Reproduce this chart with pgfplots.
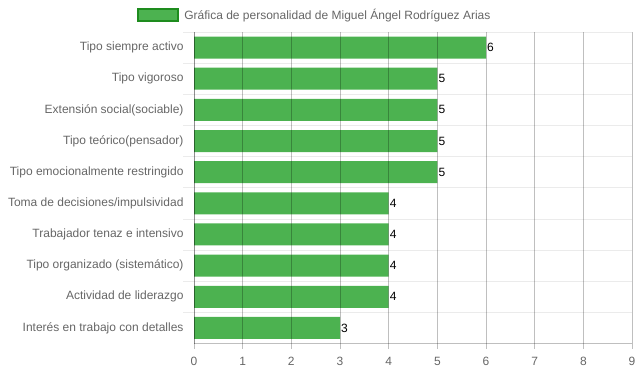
\documentclass[border=0pt]{standalone}
\usepackage{pgfplots}
\pgfplotsset{compat=1.18}
\usepackage{fontspec}
\setmainfont{Liberation Sans}
\definecolor{barfill}{RGB}{76,178,80}
\definecolor{barborder}{RGB}{30,140,30}
\definecolor{labelgray}{RGB}{102,102,102}
\begin{document}
\begin{tikzpicture}[x=1pt,y=1pt]
\useasboundingbox (0,0) rectangle (639,372);
\begin{axis}[
  at={(194pt,28.5pt)}, anchor=south west,
  scale only axis, width=438pt, height=311.5pt,
  xbar, bar width=22pt,
  xmin=0, xmax=9, ymin=-0.5, ymax=9.5,
  y dir=reverse,
  axis on top,
  axis x line*=bottom, axis y line*=left,
  axis line style={draw=black, draw opacity=0.25},
  xtick={0,...,9},
  ytick={0,...,9},
  yticklabels={Tipo siempre activo, Tipo vigoroso, Extensión social(sociable), Tipo teórico(pensador), Tipo emocionalmente restringido, Toma de decisiones/impulsividad, Trabajador tenaz e intensivo, Tipo organizado (sistemático), Actividad de liderazgo, Interés en trabajo con detalles},
  xmajorgrids,
  major grid style={draw=black, draw opacity=0.25, line width=0.8pt},
  tick align=outside,
  xtick style={draw=black, draw opacity=0.25, line width=0.8pt},
  major tick length=5pt,
  ytick style={draw=none},
  extra y ticks={-0.5,0.5,1.5,2.5,3.5,4.5,5.5,6.5,7.5,8.5},
  extra y tick labels={},
  extra y tick style={grid=major, major grid style={draw=black, draw opacity=0.08, line width=0.8pt}, major tick length=11pt, ytick style={draw=black, draw opacity=0.08, line width=0.8pt}},
  /pgf/number format/assume math mode=true,
  ticklabel style={font=\fontsize{12}{14}\selectfont, text=labelgray},
  yticklabel style={xshift=-2pt},
  xticklabel style={yshift=-5pt},
  nodes near coords,
  every node near coord/.append style={font=\fontsize{12}{14}\selectfont, text=black, inner xsep=1pt},
  legend style={at={(-0.13,1.0546)}, anchor=west, draw=none, fill=none, inner sep=0pt, font=\fontsize{12}{14}\selectfont, text=labelgray},
  legend image code/.code={\draw[fill=barfill, draw=barborder, line width=2pt] (0pt,-6pt) rectangle (40pt,6pt); \path (44pt,0pt);},
]
\addplot[fill=barfill, draw=none] coordinates {
(6,0) (5,1) (5,2) (5,3) (5,4) (4,5) (4,6) (4,7) (4,8) (3,9)
};
\addlegendentry{Gráfica de personalidad de Miguel Ángel Rodríguez Arias}
\end{axis}
\end{tikzpicture}
\end{document}
